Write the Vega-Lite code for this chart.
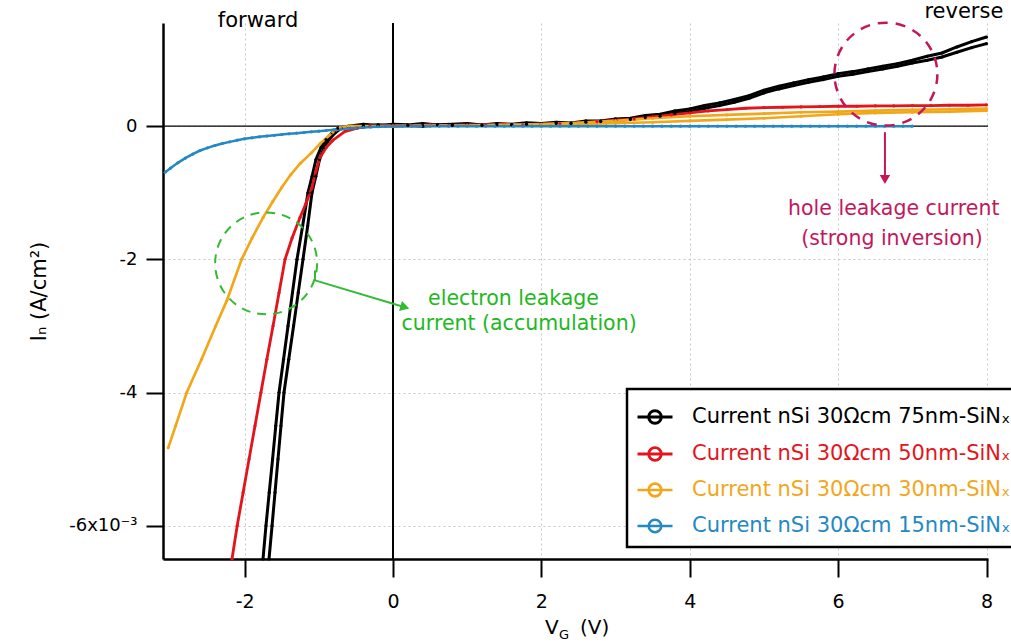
{
  "$schema": "https://vega.github.io/schema/vega-lite/v6.json",
  "width": 825,
  "height": 536,
  "autosize": {"type": "none"},
  "padding": {"left": 163, "top": 23, "right": 23, "bottom": 85},
  "background": "white",
  "config": {
    "font": "DejaVu Sans",
    "view": {"stroke": null},
    "axis": {"domainColor": "#000", "domainWidth": 2.5, "tickColor": "#000", "tickWidth": 2, "labelColor": "#000", "labelFontSize": 19, "titleColor": "#000", "titleFontWeight": "normal", "gridColor": "#c8c8c8", "gridDash": [2, 3], "gridWidth": 1, "labelOverlap": false, "labelFlush": false}
  },
  "datasets": {
    "iv": [
      {"s":"75nm","w":"a","V":-1.752,"I":-6.5e-3},{"s":"75nm","w":"a","V":-1.712,"I":-6.0e-3},{"s":"75nm","w":"a","V":-1.668,"I":-5.5e-3},{"s":"75nm","w":"a","V":-1.623,"I":-5.0e-3},{"s":"75nm","w":"a","V":-1.58,"I":-4.5e-3},{"s":"75nm","w":"a","V":-1.536,"I":-4.0e-3},{"s":"75nm","w":"a","V":-1.475,"I":-3.5e-3},{"s":"75nm","w":"a","V":-1.415,"I":-3.0e-3},{"s":"75nm","w":"a","V":-1.355,"I":-2.5e-3},{"s":"75nm","w":"a","V":-1.294,"I":-2.0e-3},{"s":"75nm","w":"a","V":-1.218,"I":-1.5e-3},{"s":"75nm","w":"a","V":-1.146,"I":-1.0e-3},{"s":"75nm","w":"a","V":-1.09,"I":-0.75e-3},{"s":"75nm","w":"a","V":-1.038,"I":-0.5e-3},{"s":"75nm","w":"a","V":-0.97,"I":-0.32e-3},{"s":"75nm","w":"a","V":-0.903,"I":-0.2e-3},{"s":"75nm","w":"a","V":-0.82,"I":-0.1e-3},{"s":"75nm","w":"a","V":-0.74,"I":-0.03e-3},
      {"s":"75nm","w":"a","V":-0.6,"I":0.0},{"s":"75nm","w":"a","V":-0.4,"I":0.03e-3},{"s":"75nm","w":"a","V":-0.2,"I":0.01e-3},{"s":"75nm","w":"a","V":0.0,"I":0.03e-3},{"s":"75nm","w":"a","V":0.2,"I":0.02e-3},{"s":"75nm","w":"a","V":0.4,"I":0.04e-3},{"s":"75nm","w":"a","V":0.6,"I":0.02e-3},{"s":"75nm","w":"a","V":0.8,"I":0.03e-3},{"s":"75nm","w":"a","V":1.0,"I":0.04e-3},{"s":"75nm","w":"a","V":1.2,"I":0.02e-3},{"s":"75nm","w":"a","V":1.4,"I":0.04e-3},{"s":"75nm","w":"a","V":1.6,"I":0.03e-3},{"s":"75nm","w":"a","V":1.8,"I":0.05e-3},{"s":"75nm","w":"a","V":2.0,"I":0.04e-3},{"s":"75nm","w":"a","V":2.2,"I":0.06e-3},{"s":"75nm","w":"a","V":2.4,"I":0.05e-3},{"s":"75nm","w":"a","V":2.6,"I":0.08e-3},{"s":"75nm","w":"a","V":2.8,"I":0.08e-3},{"s":"75nm","w":"a","V":3.0,"I":0.11e-3},{"s":"75nm","w":"a","V":3.2,"I":0.12e-3},{"s":"75nm","w":"a","V":3.4,"I":0.16e-3},{"s":"75nm","w":"a","V":3.6,"I":0.18e-3},{"s":"75nm","w":"a","V":3.8,"I":0.23e-3},{"s":"75nm","w":"a","V":4.0,"I":0.26e-3},{"s":"75nm","w":"a","V":4.2,"I":0.31e-3},{"s":"75nm","w":"a","V":4.4,"I":0.35e-3},{"s":"75nm","w":"a","V":4.6,"I":0.40e-3},{"s":"75nm","w":"a","V":4.8,"I":0.46e-3},{"s":"75nm","w":"a","V":5.0,"I":0.54e-3},{"s":"75nm","w":"a","V":5.2,"I":0.60e-3},{"s":"75nm","w":"a","V":5.4,"I":0.65e-3},{"s":"75nm","w":"a","V":5.6,"I":0.70e-3},{"s":"75nm","w":"a","V":5.8,"I":0.74e-3},{"s":"75nm","w":"a","V":6.0,"I":0.79e-3},{"s":"75nm","w":"a","V":6.2,"I":0.82e-3},{"s":"75nm","w":"a","V":6.4,"I":0.86e-3},{"s":"75nm","w":"a","V":6.6,"I":0.90e-3},{"s":"75nm","w":"a","V":6.8,"I":0.94e-3},{"s":"75nm","w":"a","V":7.0,"I":0.99e-3},{"s":"75nm","w":"a","V":7.2,"I":1.05e-3},{"s":"75nm","w":"a","V":7.4,"I":1.10e-3},{"s":"75nm","w":"a","V":7.6,"I":1.19e-3},{"s":"75nm","w":"a","V":7.8,"I":1.27e-3},{"s":"75nm","w":"a","V":8.0,"I":1.34e-3},
      {"s":"75nm","w":"b","V":-1.671,"I":-6.5e-3},{"s":"75nm","w":"b","V":-1.63,"I":-6.0e-3},{"s":"75nm","w":"b","V":-1.59,"I":-5.5e-3},{"s":"75nm","w":"b","V":-1.55,"I":-5.0e-3},{"s":"75nm","w":"b","V":-1.51,"I":-4.5e-3},{"s":"75nm","w":"b","V":-1.469,"I":-4.0e-3},{"s":"75nm","w":"b","V":-1.405,"I":-3.5e-3},{"s":"75nm","w":"b","V":-1.34,"I":-3.0e-3},{"s":"75nm","w":"b","V":-1.277,"I":-2.5e-3},{"s":"75nm","w":"b","V":-1.213,"I":-2.0e-3},{"s":"75nm","w":"b","V":-1.15,"I":-1.5e-3},{"s":"75nm","w":"b","V":-1.092,"I":-1.0e-3},{"s":"75nm","w":"b","V":-1.04,"I":-0.75e-3},{"s":"75nm","w":"b","V":-0.99,"I":-0.5e-3},{"s":"75nm","w":"b","V":-0.93,"I":-0.32e-3},{"s":"75nm","w":"b","V":-0.86,"I":-0.2e-3},{"s":"75nm","w":"b","V":-0.78,"I":-0.1e-3},{"s":"75nm","w":"b","V":-0.7,"I":-0.03e-3},
      {"s":"75nm","w":"b","V":-0.6,"I":-0.01e-3},{"s":"75nm","w":"b","V":-0.4,"I":0.0},{"s":"75nm","w":"b","V":-0.2,"I":0.02e-3},{"s":"75nm","w":"b","V":0.0,"I":0.0},{"s":"75nm","w":"b","V":0.2,"I":0.01e-3},{"s":"75nm","w":"b","V":0.4,"I":0.0},{"s":"75nm","w":"b","V":0.6,"I":0.02e-3},{"s":"75nm","w":"b","V":0.8,"I":0.01e-3},{"s":"75nm","w":"b","V":1.0,"I":0.02e-3},{"s":"75nm","w":"b","V":1.2,"I":0.01e-3},{"s":"75nm","w":"b","V":1.4,"I":0.02e-3},{"s":"75nm","w":"b","V":1.6,"I":0.02e-3},{"s":"75nm","w":"b","V":1.8,"I":0.03e-3},{"s":"75nm","w":"b","V":2.0,"I":0.03e-3},{"s":"75nm","w":"b","V":2.2,"I":0.04e-3},{"s":"75nm","w":"b","V":2.4,"I":0.04e-3},{"s":"75nm","w":"b","V":2.6,"I":0.06e-3},{"s":"75nm","w":"b","V":2.8,"I":0.07e-3},{"s":"75nm","w":"b","V":3.0,"I":0.09e-3},{"s":"75nm","w":"b","V":3.2,"I":0.10e-3},{"s":"75nm","w":"b","V":3.4,"I":0.13e-3},{"s":"75nm","w":"b","V":3.6,"I":0.15e-3},{"s":"75nm","w":"b","V":3.8,"I":0.19e-3},{"s":"75nm","w":"b","V":4.0,"I":0.22e-3},{"s":"75nm","w":"b","V":4.2,"I":0.27e-3},{"s":"75nm","w":"b","V":4.4,"I":0.31e-3},{"s":"75nm","w":"b","V":4.6,"I":0.36e-3},{"s":"75nm","w":"b","V":4.8,"I":0.42e-3},{"s":"75nm","w":"b","V":5.0,"I":0.50e-3},{"s":"75nm","w":"b","V":5.2,"I":0.56e-3},{"s":"75nm","w":"b","V":5.4,"I":0.61e-3},{"s":"75nm","w":"b","V":5.6,"I":0.66e-3},{"s":"75nm","w":"b","V":5.8,"I":0.70e-3},{"s":"75nm","w":"b","V":6.0,"I":0.75e-3},{"s":"75nm","w":"b","V":6.2,"I":0.78e-3},{"s":"75nm","w":"b","V":6.4,"I":0.82e-3},{"s":"75nm","w":"b","V":6.6,"I":0.86e-3},{"s":"75nm","w":"b","V":6.8,"I":0.90e-3},{"s":"75nm","w":"b","V":7.0,"I":0.95e-3},{"s":"75nm","w":"b","V":7.2,"I":0.99e-3},{"s":"75nm","w":"b","V":7.4,"I":1.04e-3},{"s":"75nm","w":"b","V":7.6,"I":1.11e-3},{"s":"75nm","w":"b","V":7.8,"I":1.18e-3},{"s":"75nm","w":"b","V":8.0,"I":1.24e-3},
      {"s":"50nm","w":"a","V":-2.17,"I":-6.5e-3},{"s":"50nm","w":"a","V":-2.10,"I":-6.0e-3},{"s":"50nm","w":"a","V":-2.02,"I":-5.5e-3},{"s":"50nm","w":"a","V":-1.94,"I":-5.0e-3},{"s":"50nm","w":"a","V":-1.86,"I":-4.5e-3},{"s":"50nm","w":"a","V":-1.78,"I":-4.0e-3},{"s":"50nm","w":"a","V":-1.70,"I":-3.5e-3},{"s":"50nm","w":"a","V":-1.617,"I":-3.0e-3},{"s":"50nm","w":"a","V":-1.536,"I":-2.5e-3},{"s":"50nm","w":"a","V":-1.455,"I":-2.0e-3},{"s":"50nm","w":"a","V":-1.36,"I":-1.68e-3},{"s":"50nm","w":"a","V":-1.253,"I":-1.37e-3},{"s":"50nm","w":"a","V":-1.17,"I":-1.15e-3},{"s":"50nm","w":"a","V":-1.092,"I":-0.92e-3},{"s":"50nm","w":"a","V":-1.04,"I":-0.68e-3},{"s":"50nm","w":"a","V":-0.984,"I":-0.47e-3},{"s":"50nm","w":"a","V":-0.9,"I":-0.32e-3},{"s":"50nm","w":"a","V":-0.81,"I":-0.21e-3},{"s":"50nm","w":"a","V":-0.65,"I":-0.08e-3},{"s":"50nm","w":"a","V":-0.485,"I":-0.03e-3},{"s":"50nm","w":"a","V":-0.31,"I":0.0},
      {"s":"50nm","w":"a","V":0.0,"I":0.01e-3},{"s":"50nm","w":"a","V":0.25,"I":0.01e-3},{"s":"50nm","w":"a","V":0.5,"I":0.02e-3},{"s":"50nm","w":"a","V":0.75,"I":0.01e-3},{"s":"50nm","w":"a","V":1.0,"I":0.02e-3},{"s":"50nm","w":"a","V":1.25,"I":0.02e-3},{"s":"50nm","w":"a","V":1.5,"I":0.03e-3},{"s":"50nm","w":"a","V":1.75,"I":0.02e-3},{"s":"50nm","w":"a","V":2.0,"I":0.03e-3},{"s":"50nm","w":"a","V":2.25,"I":0.04e-3},{"s":"50nm","w":"a","V":2.5,"I":0.05e-3},{"s":"50nm","w":"a","V":2.75,"I":0.07e-3},{"s":"50nm","w":"a","V":3.0,"I":0.09e-3},{"s":"50nm","w":"a","V":3.25,"I":0.11e-3},{"s":"50nm","w":"a","V":3.5,"I":0.14e-3},{"s":"50nm","w":"a","V":3.75,"I":0.17e-3},{"s":"50nm","w":"a","V":4.0,"I":0.20e-3},{"s":"50nm","w":"a","V":4.25,"I":0.23e-3},{"s":"50nm","w":"a","V":4.5,"I":0.25e-3},{"s":"50nm","w":"a","V":4.75,"I":0.27e-3},{"s":"50nm","w":"a","V":5.0,"I":0.28e-3},{"s":"50nm","w":"a","V":5.25,"I":0.285e-3},{"s":"50nm","w":"a","V":5.5,"I":0.29e-3},{"s":"50nm","w":"a","V":5.75,"I":0.295e-3},{"s":"50nm","w":"a","V":6.0,"I":0.30e-3},{"s":"50nm","w":"a","V":6.25,"I":0.30e-3},{"s":"50nm","w":"a","V":6.5,"I":0.305e-3},{"s":"50nm","w":"a","V":6.75,"I":0.305e-3},{"s":"50nm","w":"a","V":7.0,"I":0.31e-3},{"s":"50nm","w":"a","V":7.25,"I":0.31e-3},{"s":"50nm","w":"a","V":7.5,"I":0.315e-3},{"s":"50nm","w":"a","V":7.75,"I":0.315e-3},{"s":"50nm","w":"a","V":8.0,"I":0.32e-3},
      {"s":"30nm","w":"a","V":-3.03,"I":-4.83e-3},{"s":"30nm","w":"a","V":-2.93,"I":-4.5e-3},{"s":"30nm","w":"a","V":-2.78,"I":-4.0e-3},{"s":"30nm","w":"a","V":-2.58,"I":-3.5e-3},{"s":"30nm","w":"a","V":-2.39,"I":-3.0e-3},{"s":"30nm","w":"a","V":-2.24,"I":-2.62e-3},{"s":"30nm","w":"a","V":-2.04,"I":-2.0e-3},{"s":"30nm","w":"a","V":-1.90,"I":-1.68e-3},{"s":"30nm","w":"a","V":-1.75,"I":-1.37e-3},{"s":"30nm","w":"a","V":-1.62,"I":-1.13e-3},{"s":"30nm","w":"a","V":-1.50,"I":-0.92e-3},{"s":"30nm","w":"a","V":-1.38,"I":-0.73e-3},{"s":"30nm","w":"a","V":-1.25,"I":-0.56e-3},{"s":"30nm","w":"a","V":-1.10,"I":-0.40e-3},{"s":"30nm","w":"a","V":-0.98,"I":-0.26e-3},{"s":"30nm","w":"a","V":-0.81,"I":-0.09e-3},{"s":"30nm","w":"a","V":-0.71,"I":-0.02e-3},{"s":"30nm","w":"a","V":-0.6,"I":0.0},
      {"s":"30nm","w":"a","V":0.0,"I":0.0},{"s":"30nm","w":"a","V":0.5,"I":0.01e-3},{"s":"30nm","w":"a","V":1.0,"I":0.01e-3},{"s":"30nm","w":"a","V":1.5,"I":0.02e-3},{"s":"30nm","w":"a","V":2.0,"I":0.03e-3},{"s":"30nm","w":"a","V":2.5,"I":0.05e-3},{"s":"30nm","w":"a","V":3.0,"I":0.08e-3},{"s":"30nm","w":"a","V":3.5,"I":0.12e-3},{"s":"30nm","w":"a","V":4.0,"I":0.15e-3},{"s":"30nm","w":"a","V":4.5,"I":0.17e-3},{"s":"30nm","w":"a","V":5.0,"I":0.19e-3},{"s":"30nm","w":"a","V":5.5,"I":0.21e-3},{"s":"30nm","w":"a","V":6.0,"I":0.22e-3},{"s":"30nm","w":"a","V":6.5,"I":0.235e-3},{"s":"30nm","w":"a","V":7.0,"I":0.245e-3},{"s":"30nm","w":"a","V":7.5,"I":0.255e-3},{"s":"30nm","w":"a","V":8.0,"I":0.265e-3},
      {"s":"30nm","w":"b","V":2.0,"I":0.02e-3},{"s":"30nm","w":"b","V":2.5,"I":0.03e-3},{"s":"30nm","w":"b","V":3.0,"I":0.045e-3},{"s":"30nm","w":"b","V":3.5,"I":0.06e-3},{"s":"30nm","w":"b","V":4.0,"I":0.08e-3},{"s":"30nm","w":"b","V":4.5,"I":0.10e-3},{"s":"30nm","w":"b","V":5.0,"I":0.12e-3},{"s":"30nm","w":"b","V":5.5,"I":0.15e-3},{"s":"30nm","w":"b","V":6.0,"I":0.18e-3},{"s":"30nm","w":"b","V":6.5,"I":0.20e-3},{"s":"30nm","w":"b","V":7.0,"I":0.21e-3},{"s":"30nm","w":"b","V":7.5,"I":0.22e-3},{"s":"30nm","w":"b","V":8.0,"I":0.235e-3},
      {"s":"15nm","w":"a","V":-3.07,"I":-0.69e-3},{"s":"15nm","w":"a","V":-3.0,"I":-0.63e-3},{"s":"15nm","w":"a","V":-2.9,"I":-0.55e-3},{"s":"15nm","w":"a","V":-2.8,"I":-0.48e-3},{"s":"15nm","w":"a","V":-2.7,"I":-0.42e-3},{"s":"15nm","w":"a","V":-2.6,"I":-0.365e-3},{"s":"15nm","w":"a","V":-2.5,"I":-0.325e-3},{"s":"15nm","w":"a","V":-2.4,"I":-0.29e-3},{"s":"15nm","w":"a","V":-2.3,"I":-0.26e-3},{"s":"15nm","w":"a","V":-2.2,"I":-0.235e-3},{"s":"15nm","w":"a","V":-2.1,"I":-0.21e-3},{"s":"15nm","w":"a","V":-2.0,"I":-0.19e-3},{"s":"15nm","w":"a","V":-1.9,"I":-0.175e-3},{"s":"15nm","w":"a","V":-1.8,"I":-0.16e-3},{"s":"15nm","w":"a","V":-1.7,"I":-0.148e-3},{"s":"15nm","w":"a","V":-1.6,"I":-0.137e-3},{"s":"15nm","w":"a","V":-1.5,"I":-0.126e-3},{"s":"15nm","w":"a","V":-1.4,"I":-0.115e-3},{"s":"15nm","w":"a","V":-1.3,"I":-0.105e-3},{"s":"15nm","w":"a","V":-1.2,"I":-0.095e-3},{"s":"15nm","w":"a","V":-1.1,"I":-0.085e-3},{"s":"15nm","w":"a","V":-1.0,"I":-0.075e-3},{"s":"15nm","w":"a","V":-0.9,"I":-0.065e-3},{"s":"15nm","w":"a","V":-0.8,"I":-0.055e-3},{"s":"15nm","w":"a","V":-0.7,"I":-0.045e-3},{"s":"15nm","w":"a","V":-0.6,"I":-0.036e-3},{"s":"15nm","w":"a","V":-0.5,"I":-0.028e-3},{"s":"15nm","w":"a","V":-0.4,"I":-0.02e-3},{"s":"15nm","w":"a","V":-0.3,"I":-0.013e-3},{"s":"15nm","w":"a","V":-0.2,"I":-0.007e-3},{"s":"15nm","w":"a","V":-0.1,"I":-0.003e-3},{"s":"15nm","w":"a","V":0.0,"I":0.0},
      {"s":"15nm","w":"a","V":0.125,"I":0},{"s":"15nm","w":"a","V":0.25,"I":0},{"s":"15nm","w":"a","V":0.375,"I":0},{"s":"15nm","w":"a","V":0.5,"I":0},{"s":"15nm","w":"a","V":0.625,"I":0},{"s":"15nm","w":"a","V":0.75,"I":0},{"s":"15nm","w":"a","V":0.875,"I":0},{"s":"15nm","w":"a","V":1.0,"I":0},{"s":"15nm","w":"a","V":1.125,"I":0},{"s":"15nm","w":"a","V":1.25,"I":0},{"s":"15nm","w":"a","V":1.375,"I":0},{"s":"15nm","w":"a","V":1.5,"I":0},{"s":"15nm","w":"a","V":1.625,"I":0},{"s":"15nm","w":"a","V":1.75,"I":0},{"s":"15nm","w":"a","V":1.875,"I":0},{"s":"15nm","w":"a","V":2.0,"I":0},{"s":"15nm","w":"a","V":2.125,"I":0},{"s":"15nm","w":"a","V":2.25,"I":0},{"s":"15nm","w":"a","V":2.375,"I":0},{"s":"15nm","w":"a","V":2.5,"I":0},{"s":"15nm","w":"a","V":2.625,"I":0},{"s":"15nm","w":"a","V":2.75,"I":0},{"s":"15nm","w":"a","V":2.875,"I":0},{"s":"15nm","w":"a","V":3.0,"I":0},{"s":"15nm","w":"a","V":3.125,"I":0},{"s":"15nm","w":"a","V":3.25,"I":0},{"s":"15nm","w":"a","V":3.375,"I":0},{"s":"15nm","w":"a","V":3.5,"I":0},{"s":"15nm","w":"a","V":3.625,"I":0},{"s":"15nm","w":"a","V":3.75,"I":0},{"s":"15nm","w":"a","V":3.875,"I":0},{"s":"15nm","w":"a","V":4.0,"I":0},{"s":"15nm","w":"a","V":4.125,"I":0},{"s":"15nm","w":"a","V":4.25,"I":0},{"s":"15nm","w":"a","V":4.375,"I":0},{"s":"15nm","w":"a","V":4.5,"I":0},{"s":"15nm","w":"a","V":4.625,"I":0},{"s":"15nm","w":"a","V":4.75,"I":0},{"s":"15nm","w":"a","V":4.875,"I":0},{"s":"15nm","w":"a","V":5.0,"I":0},{"s":"15nm","w":"a","V":5.125,"I":0},{"s":"15nm","w":"a","V":5.25,"I":0},{"s":"15nm","w":"a","V":5.375,"I":0},{"s":"15nm","w":"a","V":5.5,"I":0},{"s":"15nm","w":"a","V":5.625,"I":0},{"s":"15nm","w":"a","V":5.75,"I":0},{"s":"15nm","w":"a","V":5.875,"I":0},{"s":"15nm","w":"a","V":6.0,"I":0},{"s":"15nm","w":"a","V":6.125,"I":0},{"s":"15nm","w":"a","V":6.25,"I":0},{"s":"15nm","w":"a","V":6.375,"I":0},{"s":"15nm","w":"a","V":6.5,"I":0},{"s":"15nm","w":"a","V":6.625,"I":0},{"s":"15nm","w":"a","V":6.75,"I":0},{"s":"15nm","w":"a","V":6.875,"I":0},{"s":"15nm","w":"a","V":7.0,"I":0}
    ],
    "ann": [
      {"name":"zerov","V":0,"I":-6.5e-3,"I2":1.55e-3},
      {"name":"zeroh","V":-3.1,"V2":8.02,"I":0},
      {"name":"ecircle","V":-1.71,"I":-2.06e-3},
      {"name":"hcircle","V":6.644,"I":0.782e-3},
      {"name":"earrow","V":-1.051,"I":-2.165e-3,"V2":-1.051,"I2":-2.316e-3},
      {"name":"earrow","V":-1.051,"I":-2.316e-3,"V2":0.16,"I2":-2.72e-3},
      {"name":"harrow","V":6.631,"I":-0.09e-3,"V2":6.631,"I2":-0.78e-3},
      {"name":"ehead","V":0.16,"I":-2.72e-3},
      {"name":"hhead","V":6.631,"I":-0.8e-3}
    ],
    "txt": [
      {"name":"e","t":"electron leakage","V":1.624,"I":-2.681e-3},
      {"name":"e","t":"current (accumulation)","V":1.70,"I":-3.068e-3},
      {"name":"h","t":"hole leakage current","V":6.75,"I":-1.338e-3},
      {"name":"h","t":"(strong inversion)","V":6.725,"I":-1.789e-3},
      {"name":"k","t":"forward","V":-1.819,"I":1.489e-3},
      {"name":"k","t":"reverse","V":7.695,"I":1.62e-3},
      {"name":"xt","t":"V","V":2.049,"I":-7.624e-3},
      {"name":"xt","t":"(V)","V":2.52,"I":-7.624e-3},
      {"name":"xs","t":"G","V":2.237,"I":-7.70e-3}
    ]
  },
  "encoding": {
    "x": {"field": "V", "type": "quantitative", "scale": {"domain": [-3.1, 8.02], "nice": false, "zero": false},
          "axis": {"values": [-2, 0, 2, 4, 6, 8], "tickSize": 18, "labelPadding": 15, "title": null, "grid": true,
                   "labelExpr": "datum.value < 0 ? '-' + format(-datum.value, 'd') : format(datum.value, 'd')"}},
    "y": {"field": "I", "type": "quantitative", "scale": {"domain": [-6.5e-3, 1.55e-3], "nice": false, "zero": false},
          "axis": {"values": [-0.006, -0.004, -0.002, 0], "tickSize": 17, "labelPadding": 9, "labelFontSize": 18, "grid": true,
                   "labelExpr": "datum.value > -0.001 ? '0' : datum.value > -0.003 ? '-2' : datum.value > -0.005 ? '-4' : '-6x10⁻³'",
                   "title": "Iₙ (A/cm²)", "titleFontSize": 21, "titlePadding": 19}}
  },
  "layer": [
    {
      "data": {"name": "ann"},
      "transform": [{"filter": "datum.name == 'zerov'"}],
      "mark": {"type": "rule", "color": "#000", "strokeWidth": 2},
      "encoding": {"y2": {"field": "I2"}}
    },
    {
      "data": {"name": "ann"},
      "transform": [{"filter": "datum.name == 'zeroh'"}],
      "mark": {"type": "rule", "color": "#000", "strokeWidth": 1.2},
      "encoding": {"x2": {"field": "V2"}}
    },
    {
      "data": {"name": "iv"},
      "mark": {"type": "line"},
      "encoding": {
        "color": {"field": "s", "type": "nominal",
                  "scale": {"domain": ["75nm", "50nm", "30nm", "15nm"], "range": ["#000000", "#e3151c", "#f2a71b", "#2488c3"]},
                  "legend": {"title": null, "orient": "none", "legendX": 464, "legendY": 366,
                             "labelExpr": "'Current nSi 30Ωcm ' + datum.label + '-SiNₓ'",
                             "labelFontSize": 21, "labelOffset": 18, "rowPadding": 5, "padding": 9,
                             "symbolType": "M-1,0H1M-0.36,0A0.36,0.36,0,1,1,0.36,0A0.36,0.36,0,1,1,-0.36,0Z",
                             "symbolSize": 1225, "symbolStrokeWidth": 2, "symbolFillColor": "transparent",
                             "strokeColor": "#000", "fillColor": "#fff", "labelLimit": 0,
                             "encode": {"labels": {"update": {"fill": {"scale": "color", "field": "value"}}},
                                        "symbols": {"update": {"fill": {"value": "transparent"}, "fillOpacity": {"value": 0}, "strokeWidth": {"value": 2}}},
                                        "legend": {"update": {"strokeWidth": {"value": 2.5}}}}}},
        "strokeWidth": {"field": "s", "type": "nominal", "legend": null,
                        "scale": {"domain": ["75nm", "50nm", "30nm", "15nm"], "range": [3, 2.5, 3, 2.5]}},
        "detail": {"field": "w", "type": "nominal"}
      }
    },
    {
      "data": {"name": "iv"},
      "mark": {"type": "point", "filled": true, "size": 10, "opacity": 1, "strokeWidth": 0},
      "encoding": {
        "fill": {"field": "s", "type": "nominal", "legend": null,
                 "scale": {"domain": ["75nm", "50nm", "30nm", "15nm"], "range": ["#000000", "#e3151c", "#f2a71b", "#2488c3"]}}
      }
    },
    {
      "data": {"name": "ann"},
      "transform": [{"filter": "datum.name == 'ecircle'"}],
      "mark": {"type": "point", "shape": "circle", "size": 10400, "filled": false, "stroke": "#33bb33", "strokeWidth": 2, "strokeDash": [9, 7], "opacity": 1}
    },
    {
      "data": {"name": "ann"},
      "transform": [{"filter": "datum.name == 'hcircle'"}],
      "mark": {"type": "point", "shape": "circle", "size": 10600, "filled": false, "stroke": "#c2185b", "strokeWidth": 2.5, "strokeDash": [10, 8], "opacity": 1}
    },
    {
      "data": {"name": "ann"},
      "transform": [{"filter": "datum.name == 'earrow'"}],
      "mark": {"type": "rule", "color": "#33bb33", "strokeWidth": 2},
      "encoding": {"x2": {"field": "V2"}, "y2": {"field": "I2"}}
    },
    {
      "data": {"name": "ann"},
      "transform": [{"filter": "datum.name == 'harrow'"}],
      "mark": {"type": "rule", "color": "#c2185b", "strokeWidth": 2},
      "encoding": {"x2": {"field": "V2"}, "y2": {"field": "I2"}}
    },
    {
      "data": {"name": "ann"},
      "transform": [{"filter": "datum.name == 'ehead'"}],
      "mark": {"type": "point", "shape": "triangle-right", "size": 110, "filled": true, "color": "#33bb33", "angle": 16.7, "opacity": 1}
    },
    {
      "data": {"name": "ann"},
      "transform": [{"filter": "datum.name == 'hhead'"}],
      "mark": {"type": "point", "shape": "triangle-down", "size": 110, "filled": true, "color": "#c2185b", "opacity": 1}
    },
    {
      "data": {"name": "txt"},
      "transform": [{"filter": "datum.name == 'e'"}],
      "mark": {"type": "text", "fontSize": 20.5, "color": "#22b822", "align": "center", "baseline": "alphabetic"},
      "encoding": {"text": {"field": "t"}}
    },
    {
      "data": {"name": "txt"},
      "transform": [{"filter": "datum.name == 'h'"}],
      "mark": {"type": "text", "fontSize": 20.5, "color": "#c2185b", "align": "center", "baseline": "alphabetic"},
      "encoding": {"text": {"field": "t"}}
    },
    {
      "data": {"name": "txt"},
      "transform": [{"filter": "datum.name == 'k'"}],
      "mark": {"type": "text", "fontSize": 21, "color": "#000", "align": "center", "baseline": "alphabetic"},
      "encoding": {"text": {"field": "t"}}
    },
    {
      "data": {"name": "txt"},
      "transform": [{"filter": "datum.name == 'xt'"}],
      "mark": {"type": "text", "fontSize": 20, "color": "#000", "align": "left", "baseline": "alphabetic"},
      "encoding": {"text": {"field": "t"}}
    },
    {
      "data": {"name": "txt"},
      "transform": [{"filter": "datum.name == 'xs'"}],
      "mark": {"type": "text", "fontSize": 13, "color": "#000", "align": "left", "baseline": "alphabetic"},
      "encoding": {"text": {"field": "t"}}
    }
  ]
}
